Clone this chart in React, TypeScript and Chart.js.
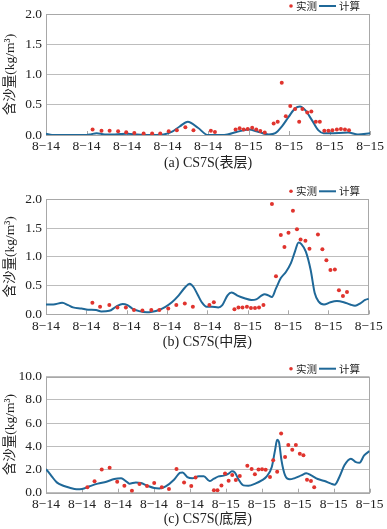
import React, { useEffect, useRef } from 'react';
import { Chart, registerables } from 'chart.js';

Chart.register(...registerables);

// ---------- tick labels ----------
const xTickLabelsAB = ['8−14', '8−14', '8−14', '8−14', '8−14', '8−15', '8−15', '8−15', '8−15'];
const xTickLabelsC = ['8−14', '8−14', '8−14', '8−14', '8−14', '8−15', '8−15', '8−15', '8−15', '8−15'];
const yTicksAB = [0, 0.5, 1.0, 1.5, 2.0];
const yTicksC = [0, 2, 4, 6, 8, 10];
const legendLabels = ['实测', '计算'];
const yAxisTitle = '含沙量(kg/m³)';
const panelTitles = ['(a) CS7S(表层)', '(b) CS7S(中层)', '(c) CS7S(底层)'];

// ---------- (a) surface ----------
const surfObsX = [1.15, 1.37, 1.57, 1.78, 1.98, 2.18, 2.41, 2.62, 2.82, 3.03, 3.23, 3.44, 3.64, 4.07, 4.17, 4.68, 4.78, 4.88, 4.98, 5.09, 5.19, 5.29, 5.40, 5.62, 5.72, 5.82, 5.92, 6.03, 6.15, 6.25, 6.33, 6.45, 6.55, 6.66, 6.76, 6.87, 6.97, 7.07, 7.18, 7.28, 7.38, 7.48];
const surfObsY = [0.09, 0.07, 0.07, 0.06, 0.045, 0.035, 0.025, 0.025, 0.025, 0.06, 0.08, 0.13, 0.08, 0.07, 0.05, 0.09, 0.11, 0.09, 0.10, 0.12, 0.09, 0.066, 0.04, 0.19, 0.22, 0.865, 0.31, 0.48, 0.43, 0.22, 0.43, 0.37, 0.39, 0.22, 0.22, 0.07, 0.07, 0.08, 0.09, 0.10, 0.09, 0.08];
const surfCalcX = [0, 0.15, 0.5, 1.0, 1.1, 1.25, 1.45, 1.7, 2.0, 2.25, 2.5, 2.9, 3.1, 3.3, 3.5, 3.75, 4.0, 4.4, 4.7, 5.0, 5.25, 5.5, 5.66, 5.82, 5.99, 6.15, 6.27, 6.4, 6.56, 6.72, 6.85, 7.0, 7.46, 7.7, 8.0];
const surfCalcY = [0.02, 0.0, 0.0, 0.0, 0.01, 0.03, 0.01, 0.01, 0.02, 0.01, 0.0, 0.01, 0.05, 0.14, 0.22, 0.12, 0.0, 0.0, 0.05, 0.09, 0.05, 0.01, 0.03, 0.14, 0.3, 0.44, 0.47, 0.41, 0.25, 0.08, 0.03, 0.03, 0.04, 0.01, 0.03];

// ---------- (b) middle ----------
const midObsX = [1.15, 1.34, 1.57, 1.77, 1.98, 2.18, 2.39, 2.61, 2.81, 3.03, 3.23, 3.44, 3.64, 4.05, 4.16, 4.67, 4.77, 4.87, 4.98, 5.08, 5.18, 5.28, 5.39, 5.6, 5.7, 5.82, 5.91, 6.01, 6.12, 6.22, 6.31, 6.43, 6.53, 6.74, 6.85, 6.95, 7.05, 7.16, 7.26, 7.36, 7.46];
const midObsY = [0.2, 0.13, 0.16, 0.12, 0.12, 0.075, 0.065, 0.075, 0.075, 0.1, 0.16, 0.19, 0.13, 0.16, 0.21, 0.09, 0.12, 0.12, 0.13, 0.11, 0.11, 0.12, 0.16, 1.92, 0.66, 1.38, 1.17, 1.42, 1.8, 1.48, 1.3, 1.28, 1.14, 1.39, 1.13, 0.94, 0.77, 0.78, 0.42, 0.32, 0.39];
const midCalcX = [0, 0.18, 0.4, 0.55, 0.67, 0.88, 1.04, 1.24, 1.37, 1.57, 1.73, 1.9, 2.02, 2.14, 2.31, 2.5, 2.63, 2.8, 2.96, 3.12, 3.29, 3.45, 3.56, 3.66, 3.76, 3.86, 3.98, 4.11, 4.27, 4.37, 4.5, 4.6, 4.76, 4.92, 5.09, 5.21, 5.33, 5.42, 5.51, 5.6, 5.7, 5.82, 5.95, 6.07, 6.17, 6.26, 6.33, 6.44, 6.56, 6.66, 6.76, 6.89, 7.05, 7.21, 7.38, 7.54, 7.66, 7.79, 7.91, 8.0];
const midCalcY = [0.17, 0.17, 0.2, 0.16, 0.12, 0.1, 0.08, 0.075, 0.05, 0.06, 0.13, 0.18, 0.16, 0.1, 0.055, 0.035, 0.045, 0.075, 0.13, 0.21, 0.33, 0.47, 0.53, 0.47, 0.34, 0.21, 0.13, 0.13, 0.12, 0.16, 0.33, 0.38, 0.32, 0.28, 0.25, 0.26, 0.32, 0.35, 0.33, 0.30, 0.45, 0.63, 0.74, 0.89, 1.09, 1.25, 1.22, 1.09, 0.77, 0.37, 0.22, 0.17, 0.21, 0.23, 0.21, 0.17, 0.15, 0.19, 0.25, 0.27];

// ---------- (c) bottom ----------
const botObsX = [1.15, 1.35, 1.55, 1.77, 1.98, 2.18, 2.39, 2.6, 2.81, 3.01, 3.22, 3.42, 3.63, 3.84, 4.04, 4.16, 4.67, 4.77, 4.88, 4.98, 5.08, 5.18, 5.28, 5.39, 5.6, 5.72, 5.81, 5.91, 6.01, 6.11, 6.23, 6.32, 6.43, 6.54, 6.65, 6.74, 6.85, 6.95, 7.06, 7.16, 7.26, 7.37, 7.46];
const botObsY = [0.46, 0.98, 2.01, 2.16, 0.95, 0.6, 0.17, 0.75, 0.57, 0.83, 0.46, 0.32, 2.04, 0.89, 0.57, 1.32, 0.22, 0.22, 0.63, 1.65, 1.03, 1.52, 1.1, 1.45, 2.33, 2.04, 1.58, 1.99, 2.02, 1.97, 1.36, 2.8, 1.8, 5.1, 3.08, 4.11, 3.7, 4.11, 3.36, 3.22, 1.12, 1.0, 0.48];
const botCalcX = [0, 0.16, 0.3, 0.48, 0.66, 0.85, 1.0, 1.21, 1.44, 1.68, 1.9, 2.09, 2.23, 2.32, 2.5, 2.64, 2.82, 3.01, 3.15, 3.33, 3.56, 3.72, 3.8, 3.93, 4.07, 4.25, 4.39, 4.55, 4.67, 4.8, 4.94, 5.08, 5.17, 5.25, 5.36, 5.49, 5.63, 5.82, 6.0, 6.14, 6.28, 6.37, 6.43, 6.48, 6.55, 6.65, 6.78, 6.92, 7.1, 7.24, 7.38, 7.56, 7.75, 7.93, 8.03, 8.16, 8.3, 8.48, 8.62, 8.72, 8.85, 9.0];
const botCalcY = [2.04, 1.41, 0.89, 0.6, 0.43, 0.3, 0.32, 0.55, 0.78, 0.95, 1.18, 1.24, 0.98, 0.78, 0.89, 0.83, 0.6, 0.4, 0.37, 0.55, 1.12, 1.7, 1.75, 1.35, 1.24, 1.41, 1.41, 1.0, 1.21, 1.41, 1.47, 1.64, 1.84, 1.75, 1.12, 0.63, 0.6, 0.78, 1.06, 1.41, 2.21, 3.65, 4.57, 4.37, 2.79, 1.49, 1.15, 1.26, 1.49, 1.67, 1.49, 1.18, 1.01, 0.78, 0.69, 1.35, 2.36, 2.93, 2.64, 2.59, 3.22, 3.59];

// ---------- style ----------
const W = 387;
const H = 529;
const RED = '#e0342e';
const BLUE = '#1f6898';
const TXT = '#222222';
const GRID = '#bdbdbd';
const FRAME = '#a8a8a8';
const SERIF = "'Liberation Serif', 'Times New Roman', 'Noto Sans CJK SC', serif";
const CJK = "'Noto Sans CJK SC', 'Liberation Serif', sans-serif";

type PanelCfg = {
  top: number;
  bottom: number;
  xH: number;
  tickPad: number;
  xLabels: string[];
  yTicks: number[];
  title: string;
  obsX: number[];
  obsY: number[];
  calcX: number[];
  calcY: number[];
};

const panels: PanelCfg[] = [
  { top: 14, bottom: 135, xH: 36.4, tickPad: 3, xLabels: xTickLabelsAB, yTicks: yTicksAB, title: panelTitles[0], obsX: surfObsX, obsY: surfObsY, calcX: surfCalcX, calcY: surfCalcY },
  { top: 199.3, bottom: 314.3, xH: 36.8, tickPad: 4.3, xLabels: xTickLabelsAB, yTicks: yTicksAB, title: panelTitles[1], obsX: midObsX, obsY: midObsY, calcX: midCalcX, calcY: midCalcY },
  { top: 376.7, bottom: 492.7, xH: 34.8, tickPad: 3.5, xLabels: xTickLabelsC, yTicks: yTicksC, title: panelTitles[2], obsX: botObsX, obsY: botObsY, calcX: botCalcX, calcY: botCalcY },
];

const decorPlugin = (cfg: PanelCfg) => ({
  id: 'decor',
  beforeDatasetsDraw(chart: any) {
    const { ctx, chartArea: a, scales } = chart;
    ctx.save();
    ctx.strokeStyle = FRAME;
    ctx.lineWidth = 1;
    ctx.strokeRect(Math.round(a.left) + 0.5, Math.round(a.top) + 0.5, Math.round(a.right - a.left) - 1, Math.round(a.bottom - a.top));
    // small inward ticks on the x axis
    const xs = scales.x;
    ctx.beginPath();
    cfg.xLabels.forEach((_, i) => {
      const px = Math.round(xs.getPixelForValue(i)) + 0.5;
      ctx.moveTo(px, a.bottom);
      ctx.lineTo(px, a.bottom - 4);
    });
    ctx.stroke();
    ctx.restore();
  },
  afterDraw(chart: any) {
    const { ctx, chartArea: a } = chart;
    const y = a.top - 8;
    ctx.save();
    ctx.fillStyle = RED;
    ctx.beginPath();
    ctx.arc(291, y, 1.8, 0, Math.PI * 2);
    ctx.fill();
    ctx.font = `10.5px ${CJK}`;
    ctx.fillStyle = TXT;
    ctx.textBaseline = 'middle';
    ctx.textAlign = 'left';
    ctx.fillText(legendLabels[0], 296, y);
    ctx.strokeStyle = BLUE;
    ctx.lineWidth = 2;
    ctx.beginPath();
    ctx.moveTo(319, y);
    ctx.lineTo(336, y);
    ctx.stroke();
    ctx.fillText(legendLabels[1], 339, y);
    ctx.restore();
  },
});

function Panel({ cfg }: { cfg: PanelCfg }) {
  const ref = useRef<HTMLCanvasElement | null>(null);
  useEffect(() => {
    if (!ref.current) return;
    const yMax = cfg.yTicks[cfg.yTicks.length - 1];
    const yStep = cfg.yTicks[1] - cfg.yTicks[0];
    const chart = new Chart(ref.current, {
      type: 'line',
      data: {
        datasets: [
          {
            label: legendLabels[0],
            data: cfg.obsX.map((x, i) => ({ x, y: cfg.obsY[i] })),
            showLine: false,
            pointRadius: 2,
            pointBorderWidth: 0,
            pointBackgroundColor: RED,
            backgroundColor: RED,
            borderColor: RED,
          },
          {
            label: legendLabels[1],
            data: cfg.calcX.map((x, i) => ({ x, y: cfg.calcY[i] })),
            borderColor: BLUE,
            borderWidth: 2,
            pointRadius: 0,
            tension: 0.4,
            cubicInterpolationMode: 'monotone',
            fill: false,
          },
        ],
      } as any,
      options: {
        responsive: false,
        animation: false,
        devicePixelRatio: 1,
        layout: { padding: { top: cfg.top, bottom: H - cfg.bottom - cfg.xH, left: 0, right: 15 } },
        plugins: { legend: { display: false }, tooltip: { enabled: false }, title: { display: false } },
        scales: {
          x: {
            type: 'linear',
            min: 0,
            max: cfg.xLabels.length - 1,
            afterFit: (s: any) => { s.height = cfg.xH; },
            ticks: {
              stepSize: 1,
              autoSkip: false,
              maxRotation: 0,
              padding: cfg.tickPad,
              color: TXT,
              font: { family: SERIF, size: 13.5 },
              callback: (v: any) => cfg.xLabels[Math.round(Number(v))] ?? '',
            },
            grid: { display: false, drawTicks: false },
            border: { display: false },
            title: { display: true, text: cfg.title, color: TXT, font: { family: SERIF, size: 14 }, padding: { top: 0, bottom: 0 } },
          },
          y: {
            min: 0,
            max: yMax,
            afterFit: (s: any) => { s.width = 46; },
            ticks: {
              stepSize: yStep,
              padding: 4,
              color: TXT,
              font: { family: SERIF, size: 13.5 },
              callback: (v: any) => Number(v).toFixed(1),
            },
            grid: { color: GRID, lineWidth: 1, drawTicks: false },
            border: { display: false },
            title: { display: true, text: yAxisTitle, color: TXT, font: { family: SERIF, size: 13.5 }, padding: { top: 2, bottom: 0 } },
          },
        },
      } as any,
      plugins: [decorPlugin(cfg)],
    });
    return () => chart.destroy();
  }, [cfg]);
  return (
    <canvas
      ref={ref}
      width={W}
      height={H}
      style={{ position: 'absolute', left: 0, top: 0, width: W, height: H }}
    />
  );
}

export default function App() {
  return (
    <div style={{ position: 'absolute', left: 0, top: 0, width: W, height: H, background: '#ffffff', overflow: 'hidden' }}>
      {panels.map((p, i) => (
        <Panel key={i} cfg={p} />
      ))}
    </div>
  );
}
